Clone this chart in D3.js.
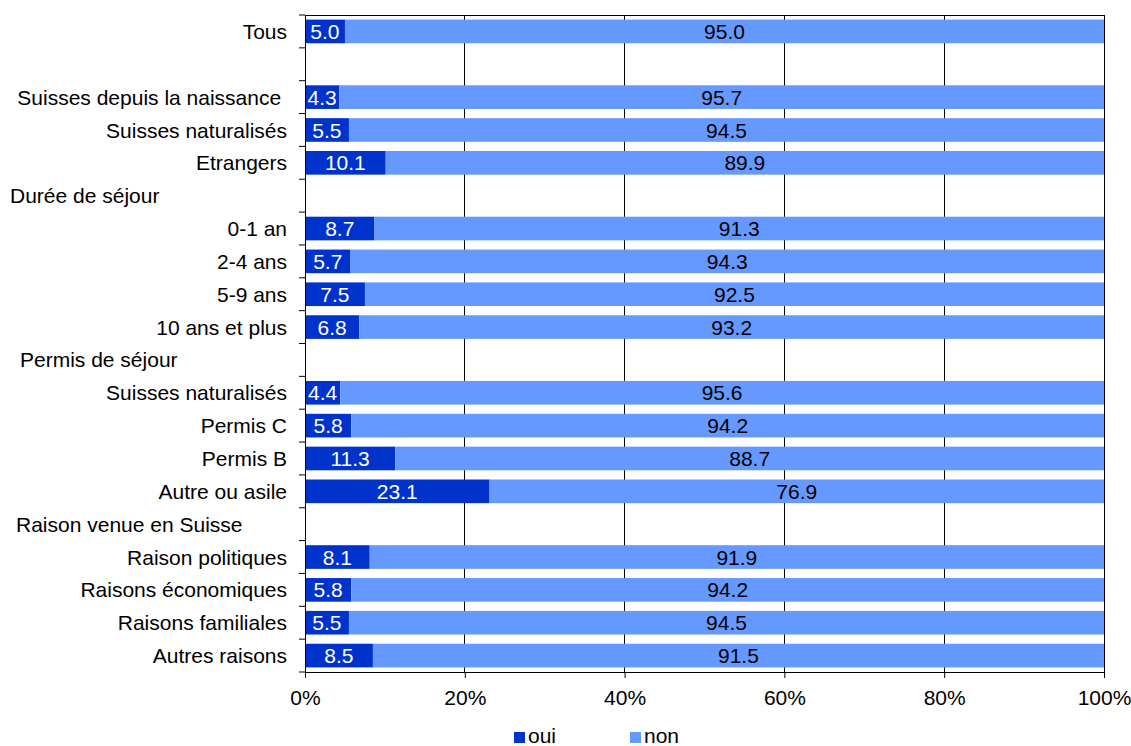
<!DOCTYPE html>
<html><head><meta charset="utf-8">
<script src="https://cdn.jsdelivr.net/npm/d3@7"></script>
<style>body{margin:0;background:#fff}text{font-family:"Liberation Sans",Arial,sans-serif}</style>
</head><body><svg id="c" width="1131" height="746"></svg>
<script>
const categories = ["Tous","","Suisses depuis la naissance\u00A0","Suisses naturalisés","Etrangers","Durée de séjour","0-1 an","2-4 ans","5-9 ans","10 ans et plus","Permis de séjour","Suisses naturalisés","Permis C","Permis B","Autre ou asile","Raison venue en Suisse","Raison politiques","Raisons économiques","Raisons familiales","Autres raisons"];
const oui = [5.0,null,4.3,5.5,10.1,null,8.7,5.7,7.5,6.8,null,4.4,5.8,11.3,23.1,null,8.1,5.8,5.5,8.5];
const non = [95.0,null,95.7,94.5,89.9,null,91.3,94.3,92.5,93.2,null,95.6,94.2,88.7,76.9,null,91.9,94.2,94.5,91.5];
const headers = {"Durée de séjour":10,"Permis de séjour":20,"Raison venue en Suisse":16};
const xTicks = [0,20,40,60,80,100];
const seriesNames = ["oui","non"];
const colors = ["#0033CC","#6699FF"];
const FS = 21;

const svg = d3.select("#c");
const m = {l:305, r:1104, t:15, b:672};
const x = d3.scaleLinear().domain([0,100]).range([m.l,m.r]);
const idx = categories.map((d,i)=>i);
const y = d3.scaleBand().domain(idx).range([m.t,m.b]).paddingInner(0.28).paddingOuter(0.14);
const yb = d3.scaleBand().domain(idx).range([m.t,m.b]);

// gridlines + frame
svg.append("g").selectAll("line").data(xTicks.filter(t=>t>0)).join("line")
  .attr("x1",d=>x(d)).attr("x2",d=>x(d)).attr("y1",m.t).attr("y2",m.b)
  .attr("stroke","#000").attr("stroke-width",1).attr("shape-rendering","crispEdges");
svg.append("line").attr("x1",m.l).attr("x2",m.r).attr("y1",m.t+0.5).attr("y2",m.t+0.5).attr("stroke","#000");

// bars
const g = svg.append("g");
categories.forEach((c,i)=>{
  if(oui[i]==null) return;
  const segs=[{v0:0,v1:oui[i],v:oui[i],s:0},{v0:oui[i],v1:oui[i]+non[i],v:non[i],s:1}];
  segs.forEach(s=>{
    g.append("rect").attr("x",x(s.v0)).attr("width",x(s.v1)-x(s.v0))
      .attr("y",y(i)).attr("height",y.bandwidth()).attr("fill",colors[s.s]);
    g.append("text").attr("x",(x(s.v0)+x(s.v1))/2).attr("y",y(i)+y.bandwidth()/2)
      .attr("dy","0.36em").attr("text-anchor","middle").attr("font-size",FS)
      .attr("fill",s.s===0?"#fff":"#000").text(s.v.toFixed(1));
  });
});

// axes
const ax = svg.append("g").attr("transform",`translate(0,${m.b})`)
  .call(d3.axisBottom(x).tickValues(xTicks).tickFormat(d=>d+"%").tickSize(6).tickSizeOuter(0));
ax.select(".domain").attr("stroke","#000");
ax.selectAll("text").attr("font-size",FS).attr("fill","#000").attr("y",18).attr("dy","0.71em").attr("font-family","Liberation Sans, Arial, sans-serif");
ax.selectAll("line").attr("stroke","#000");

const ay = svg.append("g").attr("transform",`translate(${m.l},0)`)
  .call(d3.axisLeft(yb).tickValues([]).tickSize(0).tickSizeOuter(0));
ay.select(".domain").attr("stroke","#000");
const bounds = idx.map(i=>yb(i)).concat([m.b]);
svg.append("g").selectAll("line").data(bounds).join("line")
  .attr("x1",m.l-6).attr("x2",m.l).attr("y1",d=>d).attr("y2",d=>d).attr("stroke","#000");

// category labels
svg.append("g").selectAll("text").data(categories).join("text")
  .attr("x",d=>headers[d]!==undefined?headers[d]:287)
  .attr("text-anchor",d=>headers[d]!==undefined?"start":"end")
  .attr("y",(d,i)=>yb(i)+yb.bandwidth()/2).attr("dy","0.36em")
  .attr("xml:space","preserve")
  .attr("font-size",FS).attr("fill","#000").text(d=>d);

// legend
const leg = svg.append("g");
seriesNames.forEach((n,i)=>{
  const lx = 514 + i*116;
  leg.append("rect").attr("x",lx).attr("y",732).attr("width",11).attr("height",11).attr("fill",colors[i]);
  leg.append("text").attr("x",lx+14).attr("y",743).attr("font-size",FS).attr("fill","#000").text(n);
});
</script></body></html>
